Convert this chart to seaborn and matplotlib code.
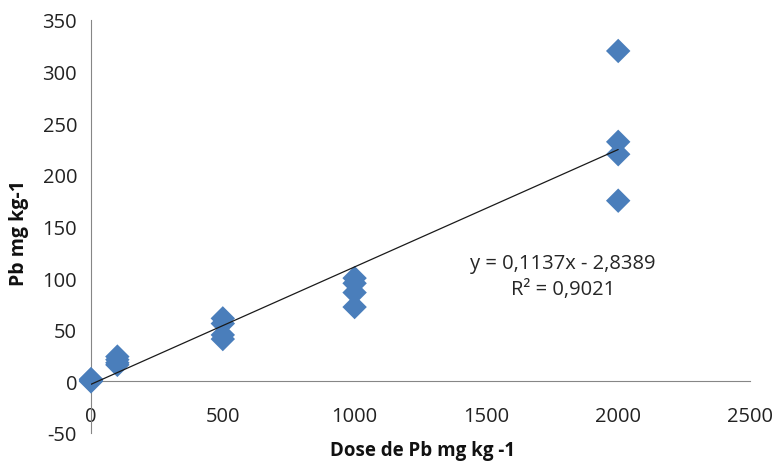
import seaborn as sns
import matplotlib.pyplot as plt
import pandas as pd
import numpy as np

# Pb dose applied vs Pb measured (4 replicates per dose)
dose = [0, 0, 0, 0,
        100, 100, 100, 100,
        500, 500, 500, 500,
        1000, 1000, 1000, 1000,
        2000, 2000, 2000, 2000]
pb = [2, 1, 2, 0,
      24, 21, 18, 16,
      61, 56, 45, 41,
      100, 95, 86, 72,
      320, 232, 220, 175]

# trend line reported on the chart
slope = 0.1137
intercept = -2.8389
r2 = 0.9021

df = pd.DataFrame({"dose": dose, "pb": pb})

sns.set_style("white")
plt.rcParams["font.family"] = ["Open Sans", "DejaVu Sans"]
plt.rcParams["axes.unicode_minus"] = False

W, H = 777, 464
fig = plt.figure(figsize=(W / 100, H / 100), dpi=100)
ax = fig.add_axes([91 / W, 30 / H, 659 / W, 413 / H])

sns.scatterplot(data=df, x="dose", y="pb", marker="D", s=155,
                color="#4A7EBB", edgecolor="none", ax=ax, zorder=3,
                clip_on=False)

# linear trend line over the range of doses
xl = np.array([0, max(dose)])
ax.plot(xl, slope * xl + intercept, color="#1a1a1a", lw=0.9, zorder=4)

ax.text(1790, 115, "y = 0,1137x - 2,8389", ha="center", va="center", fontsize=14.5)
ax.text(1790, 89, "R² = 0,9021", ha="center", va="center", fontsize=14.5)

ax.set_xlim(0, 2500)
ax.set_ylim(-50, 350)
ax.set_xticks(range(0, 2501, 500))
ax.set_yticks(range(-50, 351, 50))
ax.set_xlabel("")
ax.set_ylabel("")

ax.spines["left"].set_position(("data", 0))
ax.spines["bottom"].set_position(("data", 0))
for side in ["top", "right"]:
    ax.spines[side].set_visible(False)
for side in ["left", "bottom"]:
    ax.spines[side].set_color("#868686")

ax.tick_params(axis="both", colors="#868686", labelcolor="#222222",
               labelsize=14.5, length=5, width=1, direction="out")
ax.tick_params(axis="x", pad=13)
ax.tick_params(axis="y", pad=5)

# axis titles placed in figure pixels, as in the reference
fig.text(422 / W, 1 - 451 / H, "Dose de Pb mg kg -1", ha="center", va="center",
         fontsize=13.5, fontweight="bold", color="#111111")
fig.text(19 / W, 1 - 233 / H, "Pb mg kg-1", ha="center", va="center",
         rotation=90, fontsize=14, fontweight="bold", color="#111111")

fig.savefig("out.png", dpi=100)
